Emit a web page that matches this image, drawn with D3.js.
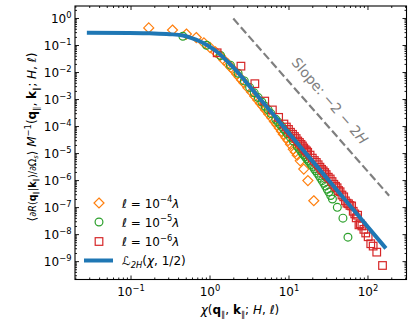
<!DOCTYPE html>
<html>
<head>
<meta charset="utf-8">
<script src="https://cdn.jsdelivr.net/npm/d3@7"></script>
<style>
  body { margin: 0; background: #fff; }
  svg { display: block; font-family: "DejaVu Sans", sans-serif; }
  text { white-space: pre; }
</style>
</head>
<body>
<script>

// Model curve L_2H(chi, 1/2)
var chiLine = [0.028, 0.0966, 0.174, 0.312, 0.461, 0.595, 0.752, 0.951, 1.228, 1.567, 2.0, 2.56, 3.26, 4.16, 5.32, 8.66, 14.1, 23.1, 37.6, 74.6, 171]
var yLine = [0.282, 0.280, 0.270, 0.252, 0.224, 0.181, 0.138, 0.0959, 0.0575, 0.0304, 0.0148, 0.00659, 0.00282, 1.205e-3, 5.15e-4, 9.42e-5, 1.72e-5, 3.15e-6, 5.75e-7, 5.33e-8, 2.97e-9]

// l = 1e-4 lambda (diamonds)
var chiOrange = [0.17, 0.34, 0.51, 0.68, 0.85, 1.02, 1.19, 1.36, 1.53, 1.70, 1.87, 2.04, 2.21, 2.38, 2.55, 2.72, 3.06, 3.40, 3.74, 4.08, 4.42, 4.76, 5.10, 5.61, 6.12, 6.63, 7.14, 7.65, 8.16, 8.6, 9.3, 9.9, 10.6, 11.5, 12.2, 12.9, 14.1, 15.6, 17.6, 20.9]
var yOrange = [0.43, 0.36, 0.255, 0.189, 0.12, 0.08, 0.056, 0.040, 0.0275, 0.0203, 0.0148, 0.0114, 0.0084, 0.0065, 0.0051, 0.0040, 0.00262, 0.00182, 0.00127, 0.00093, 0.00068, 0.00053, 0.00040, 0.00028, 0.000205, 0.000148, 0.000111, 8.4e-5, 6.4e-5, 5.0e-5, 3.7e-5, 2.9e-5, 2.1e-5, 1.39e-5, 1.1e-5, 8.3e-6, 5.15e-6, 2.55e-6, 9.6e-7, 1.72e-7]

// l = 1e-5 lambda (circles)
var chiGreen = [0.46, 0.92, 1.38, 1.84, 2.30, 2.76, 3.22, 3.68, 4.14, 4.6, 5.06, 5.52, 6.0, 6.9, 7.35, 7.8, 8.25, 8.7, 9.2, 9.7, 10.6, 11.5, 12.9, 13.6, 14.3, 15.0, 15.6, 16.3, 17.0, 17.7, 18.4, 19.3, 20.2, 21.2, 22.1, 23.2, 24.4, 25.5, 26.7, 28.0, 29.4, 30.9, 32.4, 34.2, 36.0, 41.5, 48.9, 56.6]
var yGreen = [0.21, 0.098, 0.041, 0.018, 0.0090, 0.0047, 0.0027, 0.0017, 0.00113, 0.00078, 0.00054, 0.00040, 0.00029, 0.000177, 1.42e-4, 0.000115, 9.5e-5, 7.8e-5, 6.4e-5, 5.2e-5, 3.8e-5, 2.8e-5, 1.78e-5, 1.46e-5, 1.2e-5, 9.8e-6, 8.6e-6, 7.3e-6, 6.2e-6, 5.3e-6, 4.6e-6, 3.8e-6, 3.2e-6, 2.6e-6, 2.2e-6, 1.8e-6, 1.46e-6, 1.18e-6, 9.5e-7, 7.6e-7, 6.0e-7, 4.6e-7, 3.6e-7, 2.7e-7, 2.0e-7, 9.8e-8, 3.9e-8, 7.7e-9]

// l = 1e-6 lambda (squares)
var chiRed = [1.25, 2.5, 3.75, 5.0, 6.25, 7.5, 8.75, 9.4, 10, 10.6, 11.25, 11.9, 12.5, 13.1, 13.75, 14.4, 15, 15.6, 16.25, 16.9, 17.5, 18.75, 20, 21.25, 22.5, 23.75, 25, 26.25, 27.5, 28.75, 30, 31.9, 33.75, 35.6, 37.5, 39.4, 41.25, 43.1, 45, 47.5, 50, 52.5, 55, 57.5, 60, 63, 66, 69, 72, 75, 78, 81, 85, 90, 95, 102, 110, 118, 131, 155]
var yRed = [0.0515, 0.0165, 0.0037, 8.4e-4, 3.95e-4, 2.1e-4, 1.19e-4, 9.2e-5, 7.5e-5, 5.9e-5, 4.95e-5, 4.1e-5, 3.45e-5, 2.8e-5, 2.47e-5, 2.1e-5, 1.83e-5, 1.54e-5, 1.33e-5, 1.2e-5, 1.07e-5, 8.4e-6, 6.5e-6, 5.3e-6, 4.5e-6, 3.7e-6, 3.0e-6, 2.5e-6, 2.2e-6, 1.9e-6, 1.6e-6, 1.28e-6, 1.1e-6, 8.8e-7, 7.0e-7, 5.9e-7, 5.2e-7, 4.1e-7, 3.7e-7, 2.8e-7, 2.4e-7, 1.7e-7, 1.4e-7, 1.33e-7, 1.15e-7, 1.1e-7, 7.0e-8, 5.6e-8, 4.0e-8, 5.0e-8, 2.2e-8, 2.4e-8, 2.0e-8, 1.5e-8, 1.1e-8, 8e-9, 4.4e-9, 3.6e-9, 2.15e-9, 6.9e-10]

// slope guide
var slopeChi = [2.0, 188]
var slopeY = [0.95, 2.64e-7]

var xTicks = [0.1, 1, 10, 100]
var yTicks = [1, 1e-1, 1e-2, 1e-3, 1e-4, 1e-5, 1e-6, 1e-7, 1e-8, 1e-9]
var xExp = ["−1", "0", "1", "2"]
var yExp = ["0", "−1", "−2", "−3", "−4", "−5", "−6", "−7", "−8", "−9"]
var legendExp = ["−4", "−5", "−6"]

var W = 416, H = 326
var pL = 75, pR = 406.5, pT = 6, pB = 279.5
var fs = 12

var svg = d3.select("body").append("svg").attr("width", W).attr("height", H)

var x = d3.scaleLog().domain([Math.pow(10, -1.703), Math.pow(10, 2.494)]).range([pL, pR])
var y = d3.scaleLog().domain([Math.pow(10, -9.68), Math.pow(10, 0.444)]).range([pB, pT])

// rich text: list of parts with sub / sup / italic / bold
function rich(sel, parts, size){
  var shift = 0
  parts.forEach(function(p){
    var sc = p.s || 1
    var target = p.sub ? 0.22*size*sc : (p.sup ? -0.42*size*sc : 0)
    sel.append("tspan")
       .attr("dy", target - shift)
       .attr("font-size", size*sc*((p.sub || p.sup) ? 0.7 : 1))
       .attr("font-style", p.i ? "italic" : null)
       .attr("font-weight", p.b ? "bold" : null)
       .text(p.t)
    shift = target
  })
}

function minors(lo, hi){
  var out = []
  for (var d = lo; d <= hi; d++)
    for (var k = 2; k < 10; k++) out.push(k*Math.pow(10, d))
  return out
}
var xMin = minors(-2, 2).filter(v => v > x.domain()[0] && v < x.domain()[1])
var yMin = minors(-10, 0).filter(v => v > y.domain()[0] && v < y.domain()[1])

// Axes
function styleAxis(g){
  g.select(".domain").remove()
  g.selectAll(".tick line").attr("stroke", "#000").attr("stroke-width", 0.9)
  g.attr("font-family", "DejaVu Sans").attr("font-size", fs)
}

var gx = svg.append("g").attr("transform", "translate(0," + pB + ")")
  .call(d3.axisBottom(x).tickValues(xTicks).tickSizeInner(-4).tickSizeOuter(0))
  .call(styleAxis)
gx.selectAll(".tick text").each(function(d, i){
  var t = d3.select(this).text(null).attr("y", 16.5).attr("dy", null)
  rich(t, [{t: "10"}, {t: xExp[i], sup: 1}], fs)
})
svg.append("g").attr("transform", "translate(0," + pB + ")")
  .call(d3.axisBottom(x).tickValues(xMin).tickSizeInner(-2).tickSizeOuter(0).tickFormat(""))
  .call(styleAxis)
svg.append("g").attr("transform", "translate(0," + pT + ")")
  .call(d3.axisTop(x).tickValues(xTicks).tickSizeInner(-4).tickSizeOuter(0).tickFormat(""))
  .call(styleAxis)
svg.append("g").attr("transform", "translate(0," + pT + ")")
  .call(d3.axisTop(x).tickValues(xMin).tickSizeInner(-2).tickSizeOuter(0).tickFormat(""))
  .call(styleAxis)

var gy = svg.append("g").attr("transform", "translate(" + pL + ",0)")
  .call(d3.axisLeft(y).tickValues(yTicks).tickSizeInner(-4).tickSizeOuter(0))
  .call(styleAxis)
gy.selectAll(".tick text").each(function(d, i){
  var t = d3.select(this).text(null).attr("x", -3.5).attr("y", 4.4).attr("dy", null)
  rich(t, [{t: "10"}, {t: yExp[i], sup: 1}], fs)
})
svg.append("g").attr("transform", "translate(" + pL + ",0)")
  .call(d3.axisLeft(y).tickValues(yMin).tickSizeInner(-2).tickSizeOuter(0).tickFormat(""))
  .call(styleAxis)
svg.append("g").attr("transform", "translate(" + pR + ",0)")
  .call(d3.axisRight(y).tickValues(yTicks).tickSizeInner(-4).tickSizeOuter(0).tickFormat(""))
  .call(styleAxis)
svg.append("g").attr("transform", "translate(" + pR + ",0)")
  .call(d3.axisRight(y).tickValues(yMin).tickSizeInner(-2).tickSizeOuter(0).tickFormat(""))
  .call(styleAxis)

svg.append("rect")
  .attr("x", pL).attr("y", pT).attr("width", pR - pL).attr("height", pB - pT)
  .attr("fill", "none").attr("stroke", "#000").attr("stroke-width", 1.1)

// markers
function diamond(sel, r){ return sel.append("path").attr("d", "M0," + (-r) + "L" + r + ",0L0," + r + "L" + (-r) + ",0Z") }
function square(sel, a){ return sel.append("rect").attr("x", -a/2).attr("y", -a/2).attr("width", a).attr("height", a) }
function circle(sel, r){ return sel.append("circle").attr("r", r) }

var series = [
  {chi: chiOrange, y: yOrange, color: "#ff7f0e", mk: g => diamond(g, 5)},
  {chi: chiGreen,  y: yGreen,  color: "#2ca02c", mk: g => circle(g, 3.9)},
  {chi: chiRed,    y: yRed,    color: "#d62728", mk: g => square(g, 7.6)}
]

var plot = svg.append("g")
series.forEach(function(s){
  var pts = s.chi.map((c, i) => [c, s.y[i]])
  plot.append("g").selectAll("g").data(pts).join("g")
    .attr("transform", d => "translate(" + x(d[0]) + "," + y(d[1]) + ")")
    .each(function(){ s.mk(d3.select(this)).attr("fill", "none").attr("stroke", s.color).attr("stroke-width", 1.2) })
})

// model curve on top
var line = d3.line().x(d => x(d[0])).y(d => y(d[1])).curve(d3.curveMonotoneX)
plot.append("path")
  .datum(chiLine.map((c, i) => [c, yLine[i]]))
  .attr("d", line)
  .attr("fill", "none").attr("stroke", "#1f77b4").attr("stroke-width", 4)

// slope guide
plot.append("path")
  .datum(slopeChi.map((c, i) => [c, slopeY[i]]))
  .attr("d", d3.line().x(d => x(d[0])).y(d => y(d[1])))
  .attr("stroke", "#7f7f7f").attr("stroke-width", 2.2).attr("stroke-dasharray", "8,3.5")

var st = svg.append("text")
  .attr("transform", "translate(326,104) rotate(49.5)")
  .attr("text-anchor", "middle").attr("fill", "#7f7f7f")
rich(st, [{t: "Slope: −2 − 2"}, {t: "H", i: 1}], 14)

// legend
var lx = 99, tx = 122, rows = [203, 222, 241.5, 260.5]
var leg = svg.append("g")
series.forEach(function(s, i){
  var g = leg.append("g").attr("transform", "translate(" + lx + "," + rows[i] + ")")
  s.mk(g).attr("fill", "none").attr("stroke", s.color).attr("stroke-width", 1.2)
  var t = leg.append("text").attr("x", tx).attr("y", rows[i] + 4.5).attr("font-size", fs)
  rich(t, [{t: "ℓ", i: 1}, {t: " = 10"}, {t: legendExp[i], sup: 1}, {t: "λ", i: 1}], fs)
})
leg.append("line").attr("x1", 84).attr("x2", 113).attr("y1", rows[3]).attr("y2", rows[3])
  .attr("stroke", "#1f77b4").attr("stroke-width", 4)
var lt = leg.append("text").attr("x", tx).attr("y", rows[3] + 4.5)
rich(lt, [{t: "ℒ", i: 1}, {t: "2H", sub: 1, i: 1}, {t: "("}, {t: "χ", i: 1}, {t: ", 1/2)"}], fs)

// axis labels
var xl = svg.append("text").attr("x", 240).attr("y", 314).attr("text-anchor", "middle")
rich(xl, [{t: "χ", i: 1}, {t: "("}, {t: "q", b: 1}, {t: "∥", sub: 1}, {t: ", "}, {t: "k", b: 1}, {t: "∥", sub: 1},
          {t: "; "}, {t: "H", i: 1}, {t: ", "}, {t: "ℓ", i: 1}, {t: ")"}], fs)

var yl = svg.append("text").attr("transform", "translate(36,137) rotate(-90)").attr("text-anchor", "middle")
var sm = 0.8
rich(yl, [{t: "⟨"}, {t: "∂", s: sm}, {t: "R", i: 1, s: sm}, {t: "(", s: sm}, {t: "q", b: 1, s: sm}, {t: "∥", sub: 1, s: sm},
          {t: "|", s: sm}, {t: "k", b: 1, s: sm}, {t: "∥", sub: 1, s: sm}, {t: ")/∂Ω", s: sm}, {t: "s", sub: 1, i: 1, s: sm},
          {t: "⟩"}, {t: " "}, {t: "M", i: 1}, {t: "−1", sup: 1}, {t: "("}, {t: "q", b: 1}, {t: "∥", sub: 1}, {t: ", "},
          {t: "k", b: 1}, {t: "∥", sub: 1}, {t: "; "}, {t: "H", i: 1}, {t: ", "}, {t: "ℓ", i: 1}, {t: ")"}], fs)

</script>
</body>
</html>
